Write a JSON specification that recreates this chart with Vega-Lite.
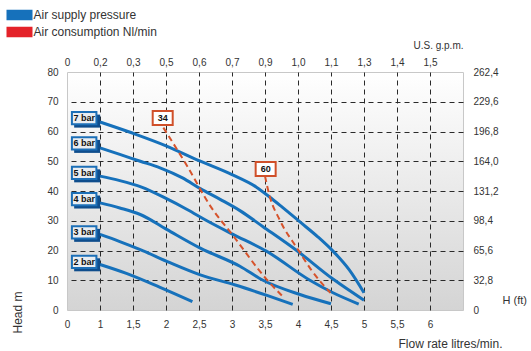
{
  "$schema": "https://vega.github.io/schema/vega-lite/v6.json",
  "width": 396,
  "height": 238,
  "autosize": "none",
  "padding": {"left": 67, "top": 72, "right": 68, "bottom": 41},
  "background": "white",
  "config": {
    "view": {"stroke": "#c8c8c8", "strokeWidth": 1, "fill": {"gradient": "linear", "x1": 0, "y1": 0, "x2": 0, "y2": 1, "stops": [{"offset": 0, "color": "#ffffff"}, {"offset": 1, "color": "#d4d4d4"}]}},
    "font": "Liberation Sans",
    "axis": {"domain": false, "ticks": false, "labelFont": "Liberation Sans", "labelFontSize": 10, "labelColor": "#333333", "titleFont": "Liberation Sans", "titleFontWeight": "normal", "titleColor": "#333333", "gridColor": "#2a2a2a", "gridDash": [5, 4], "gridWidth": 1, "labelFlush": false, "labelOverlap": false}
  },
  "datasets": {
    "pressure": [
      {"series": "7 bar", "flow": 1.0, "head": 63.2}, {"series": "7 bar", "flow": 1.5, "head": 59.4}, {"series": "7 bar", "flow": 2.0, "head": 55.2}, {"series": "7 bar", "flow": 2.5, "head": 50.2}, {"series": "7 bar", "flow": 3.0, "head": 45.5}, {"series": "7 bar", "flow": 3.37, "head": 41.3}, {"series": "7 bar", "flow": 3.57, "head": 38.0}, {"series": "7 bar", "flow": 3.77, "head": 34.4}, {"series": "7 bar", "flow": 4.03, "head": 29.6}, {"series": "7 bar", "flow": 4.3, "head": 24.6}, {"series": "7 bar", "flow": 4.53, "head": 19.8}, {"series": "7 bar", "flow": 4.78, "head": 13.4}, {"series": "7 bar", "flow": 5.0, "head": 5.8},
      {"series": "6 bar", "flow": 1.0, "head": 54.5}, {"series": "6 bar", "flow": 1.3, "head": 52.3}, {"series": "6 bar", "flow": 1.61, "head": 50.0}, {"series": "6 bar", "flow": 1.91, "head": 47.8}, {"series": "6 bar", "flow": 2.25, "head": 44.4}, {"series": "6 bar", "flow": 2.52, "head": 40.8}, {"series": "6 bar", "flow": 2.82, "head": 37.2}, {"series": "6 bar", "flow": 3.12, "head": 33.4}, {"series": "6 bar", "flow": 3.47, "head": 28.0}, {"series": "6 bar", "flow": 3.98, "head": 20.0}, {"series": "6 bar", "flow": 4.53, "head": 10.4}, {"series": "6 bar", "flow": 5.0, "head": 3.3},
      {"series": "5 bar", "flow": 1.0, "head": 45.0}, {"series": "5 bar", "flow": 1.3, "head": 43.5}, {"series": "5 bar", "flow": 1.63, "head": 41.3}, {"series": "5 bar", "flow": 2.0, "head": 37.5}, {"series": "5 bar", "flow": 2.32, "head": 33.8}, {"series": "5 bar", "flow": 2.62, "head": 30.0}, {"series": "5 bar", "flow": 3.0, "head": 25.6}, {"series": "5 bar", "flow": 3.52, "head": 19.8}, {"series": "5 bar", "flow": 4.18, "head": 10.0}, {"series": "5 bar", "flow": 4.53, "head": 5.8}, {"series": "5 bar", "flow": 4.92, "head": 2.0},
      {"series": "4 bar", "flow": 1.0, "head": 36.0}, {"series": "4 bar", "flow": 1.3, "head": 34.3}, {"series": "4 bar", "flow": 1.61, "head": 32.1}, {"series": "4 bar", "flow": 2.01, "head": 27.1}, {"series": "4 bar", "flow": 2.52, "head": 20.8}, {"series": "4 bar", "flow": 3.12, "head": 14.7}, {"series": "4 bar", "flow": 3.47, "head": 10.0}, {"series": "4 bar", "flow": 4.03, "head": 5.2}, {"series": "4 bar", "flow": 4.5, "head": 2.1},
      {"series": "3 bar", "flow": 1.0, "head": 25.4}, {"series": "3 bar", "flow": 1.3, "head": 23.0}, {"series": "3 bar", "flow": 1.61, "head": 20.3}, {"series": "3 bar", "flow": 2.06, "head": 15.9}, {"series": "3 bar", "flow": 2.52, "head": 11.8}, {"series": "3 bar", "flow": 3.05, "head": 8.4}, {"series": "3 bar", "flow": 3.53, "head": 4.9}, {"series": "3 bar", "flow": 3.92, "head": 1.9},
      {"series": "2 bar", "flow": 1.0, "head": 15.3}, {"series": "2 bar", "flow": 1.4, "head": 12.3}, {"series": "2 bar", "flow": 1.91, "head": 7.6}, {"series": "2 bar", "flow": 2.4, "head": 2.8}
    ],
    "consumption": [
      {"series": "34", "flow": 1.96, "head": 61.3}, {"series": "34", "flow": 2.32, "head": 48.4}, {"series": "34", "flow": 2.67, "head": 35.0}, {"series": "34", "flow": 3.02, "head": 24.9}, {"series": "34", "flow": 3.52, "head": 10.4}, {"series": "34", "flow": 3.78, "head": 4.3},
      {"series": "60", "flow": 3.5, "head": 45.0}, {"series": "60", "flow": 3.57, "head": 38.3}, {"series": "60", "flow": 3.72, "head": 30.4}, {"series": "60", "flow": 4.0, "head": 20.3}, {"series": "60", "flow": 4.2, "head": 13.5}, {"series": "60", "flow": 4.49, "head": 5.8}
    ],
    "badges": [
      {"label": "7 bar", "flow": 0.52, "head": 64.5},
      {"label": "6 bar", "flow": 0.52, "head": 56.0},
      {"label": "5 bar", "flow": 0.52, "head": 46.1},
      {"label": "4 bar", "flow": 0.52, "head": 37.3},
      {"label": "3 bar", "flow": 0.52, "head": 26.1},
      {"label": "2 bar", "flow": 0.52, "head": 16.2}
    ],
    "consLabels": [
      {"label": "34", "flow": 1.95, "head": 64.5},
      {"label": "60", "flow": 3.51, "head": 47.4}
    ]
  },
  "layer": [
    {
      "data": {"name": "pressure"},
      "mark": {"type": "line", "interpolate": "monotone", "strokeCap": "butt"},
      "encoding": {
        "x": {"field": "flow", "type": "quantitative", "scale": {"type": "linear", "domain": [0, 1, 6.5], "range": [0, 33, 396], "nice": false, "zero": false},
          "axis": {"orient": "bottom", "values": [0, 1, 1.5, 2, 2.5, 3, 3.5, 4, 4.5, 5, 5.5, 6], "labelExpr": "replace(format(datum.value, '~g'), '.', ',')", "grid": false, "labelPadding": 9, "title": "Flow rate litres/min.", "titleFontSize": 12, "titleX": 435, "titleY": 33, "titleAlign": "right", "titleBaseline": "middle", "titleAnchor": "end"}},
        "y": {"field": "head", "type": "quantitative", "scale": {"domain": [0, 80], "nice": false, "zero": false},
          "axis": {"orient": "left", "values": [0, 10, 20, 30, 40, 50, 60, 70, 80], "grid": false, "labelPadding": 9, "title": "Head m", "titleFontSize": 12, "titleAngle": 270, "titleX": -50, "titleY": 261, "titleAlign": "left", "titleBaseline": "middle", "titleAnchor": "start"}},
        "detail": {"field": "series"},
        "strokeWidth": {"value": 3},
        "color": {"datum": "Air supply pressure", "type": "nominal",
          "scale": {"domain": ["Air supply pressure", "Air consumption Nl/min"], "range": ["#1671bb", "#e42229"]},
          "legend": {"orient": "none", "legendX": -53.5, "legendY": -63, "title": null, "symbolType": "M-6.5,-2.15H6.5M-6.5,-1.29H6.5M-6.5,-0.43H6.5M-6.5,0.43H6.5M-6.5,1.29H6.5M-6.5,2.15H6.5", "symbolSize": 16, "symbolStrokeWidth": 2, "labelFontSize": 12, "labelFont": "Liberation Sans", "labelColor": "#333333", "labelOffset": 8, "rowPadding": -1, "padding": 0}}
      }
    },
    {
      "data": {"name": "consumption"},
      "mark": {"type": "line", "interpolate": "monotone", "color": "#d6532c", "strokeWidth": 2, "strokeDash": [6, 4]},
      "encoding": {
        "x": {"field": "flow", "type": "quantitative", "scale": {"type": "linear", "domain": [0, 1, 6.5], "range": [0, 33, 396], "nice": false, "zero": false},
          "axis": {"orient": "top", "values": [0, 1, 1.5, 2, 2.5, 3, 3.5, 4, 4.5, 5, 5.5, 6], "labelExpr": "['0','0,2','0,3','0,5','0,6','0,7','0,9','1,0','1,1','1,3','1,4','1,5'][datum.value <= 1 ? datum.value : 1 + (datum.value - 1) * 2]", "grid": true, "gridOpacity": {"condition": {"test": "datum.value == 0", "value": 0}, "value": 1}, "labelPadding": 5, "title": "U.S. g.p.m.", "titleFontSize": 10, "titleX": 396, "titleY": -27, "titleAlign": "right", "titleBaseline": "middle"}},
        "y": {"field": "head", "type": "quantitative", "scale": {"domain": [0, 80], "nice": false, "zero": false},
          "axis": {"orient": "right", "values": [0, 10, 20, 30, 40, 50, 60, 70, 80], "labelExpr": "datum.value == 0 ? '0' : replace(format(datum.value * 3.28, '.1f'), '.', ',')", "grid": true, "gridOpacity": {"condition": {"test": "datum.value == 0 || datum.value == 80", "value": 0}, "value": 1}, "labelPadding": 10, "title": "H (ft)", "titleFontSize": 11, "titleAngle": 0, "titleX": 39, "titleY": 228, "titleAlign": "left", "titleBaseline": "middle"}},
        "detail": {"field": "series"}
      }
    },
    {
      "data": {"name": "badges"},
      "mark": {"type": "point", "shape": "M-1,-0.5H1V0.5H-1Z", "filled": true, "size": 676, "color": "#0f4d8c", "opacity": 1, "xOffset": 3, "yOffset": 3},
      "encoding": {
        "x": {"field": "flow", "type": "quantitative", "axis": null, "scale": {"type": "linear", "domain": [0, 1, 6.5], "range": [0, 33, 396], "nice": false, "zero": false}},
        "y": {"field": "head", "type": "quantitative", "axis": null, "scale": {"domain": [0, 80], "nice": false, "zero": false}}
      }
    },
    {
      "data": {"name": "badges"},
      "mark": {"type": "point", "shape": "M-1,-0.5H1V0.5H-1Z", "filled": true, "size": 600, "fill": "#e9edf1", "stroke": "#1c6fb7", "strokeWidth": 2, "opacity": 1},
      "encoding": {
        "x": {"field": "flow", "type": "quantitative", "axis": null, "scale": {"type": "linear", "domain": [0, 1, 6.5], "range": [0, 33, 396], "nice": false, "zero": false}},
        "y": {"field": "head", "type": "quantitative", "axis": null, "scale": {"domain": [0, 80], "nice": false, "zero": false}}
      }
    },
    {
      "data": {"name": "badges"},
      "mark": {"type": "text", "font": "Liberation Sans", "fontSize": 9, "fontWeight": "bold", "color": "#111111", "align": "center", "baseline": "middle"},
      "encoding": {
        "x": {"field": "flow", "type": "quantitative", "axis": null, "scale": {"type": "linear", "domain": [0, 1, 6.5], "range": [0, 33, 396], "nice": false, "zero": false}},
        "y": {"field": "head", "type": "quantitative", "axis": null, "scale": {"domain": [0, 80], "nice": false, "zero": false}},
        "text": {"field": "label"}
      }
    },
    {
      "data": {"name": "consLabels"},
      "mark": {"type": "point", "shape": "M-1,-0.7H1V0.7H-1Z", "filled": true, "size": 400, "fill": "#ffffff", "stroke": "#d0502a", "strokeWidth": 2, "opacity": 1},
      "encoding": {
        "x": {"field": "flow", "type": "quantitative", "axis": null, "scale": {"type": "linear", "domain": [0, 1, 6.5], "range": [0, 33, 396], "nice": false, "zero": false}},
        "y": {"field": "head", "type": "quantitative", "axis": null, "scale": {"domain": [0, 80], "nice": false, "zero": false}}
      }
    },
    {
      "data": {"name": "consLabels"},
      "mark": {"type": "text", "font": "Liberation Sans", "fontSize": 9, "fontWeight": "bold", "color": "#111111", "align": "center", "baseline": "middle"},
      "encoding": {
        "x": {"field": "flow", "type": "quantitative", "axis": null, "scale": {"type": "linear", "domain": [0, 1, 6.5], "range": [0, 33, 396], "nice": false, "zero": false}},
        "y": {"field": "head", "type": "quantitative", "axis": null, "scale": {"domain": [0, 80], "nice": false, "zero": false}},
        "text": {"field": "label"}
      }
    }
  ],
  "resolve": {"axis": {"x": "independent", "y": "independent"}}
}
